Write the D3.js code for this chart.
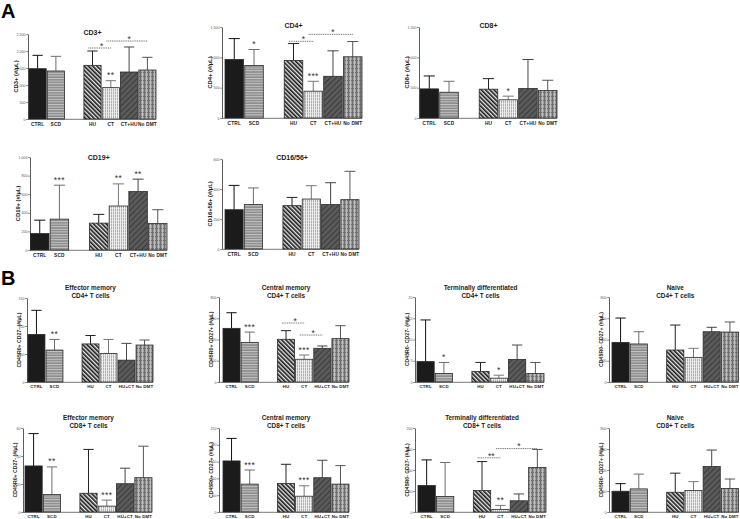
<!DOCTYPE html>
<html><head><meta charset="utf-8">
<script src="https://cdn.jsdelivr.net/npm/d3@7"></script>
<style>body{margin:0;background:#fff}svg{display:block}text{font-family:"Liberation Sans",Arial,sans-serif}</style>
</head><body><svg id="c" width="740" height="519"></svg>
<script>
// ---------- DATA ----------
const groupsA = ["CTRL","SCD","HU","CT","CT+HU","No DMT"];
const groupsB = ["CTRL","SCD","HU","CT","HU+CT","No DMT"];

const cd3Mean = [1480,1412,1578,922,1382,1441];
const cd3Sd   = [393,431,422,205,736,373];
const cd3Ticks = [0,500,1000,1500,2000,2500];
const cd3Stars = [{g:3,t:"**"}];
const cd3Brackets = [{a:2,b:3,v:2088,t:"*"},{a:3,b:5,v:2294,t:"*"}];

const cd4Mean = [965,867,949,442,687,1009];
const cd4Sd   = [344,262,278,163,420,251];
const cd4Ticks = [0,500,1000,1500];
const cd4Stars = [{g:1,t:"*"},{g:3,t:"***"}];
const cd4Brackets = [{a:2,b:3,v:1264,t:"*"},{a:3,b:5,v:1379,t:"*"}];

const cd8Mean = [480,425,475,300,485,453];
const cd8Sd   = [213,180,174,60,480,169];
const cd8Ticks = [0,500,1000,1500];
const cd8Stars = [{g:3,t:"*"}];

const cd19Mean = [177,332,289,473,628,285];
const cd19Sd   = [144,365,94,238,134,148];
const cd19Ticks = [0,200,400,600,800,1000];
const cd19Stars = [{g:1,t:"***"},{g:3,t:"**"},{g:4,t:"**"}];

const cd1656Mean = [262,296,289,333,296,329];
const cd1656Sd   = [162,111,55,89,146,189];
const cd1656Ticks = [0,200,400,600];

const emCd4Mean = [85,57,68,51,39,66];
const emCd4Sd   = [43,19,15,25,30,9];
const emCd4Ticks = [0,50,100,150];
const emCd4Stars = [{g:1,t:"**"}];

const cmCd4Mean = [505,373,402,214,317,408];
const cmCd4Sd   = [147,97,81,40,22,122];
const cmCd4Ticks = [0,200,400,600,800];
const cmCd4Stars = [{g:1,t:"***"},{g:3,t:"***"}];
const cmCd4Brackets = [{a:2,b:3,v:555,t:"*"},{a:3,b:4,v:442,t:"*"}];

const tdCd4Mean = [4.8,2.0,2.5,0.9,5.3,2.0];
const tdCd4Sd   = [9.8,2.6,2.1,0.7,3.4,2.6];
const tdCd4Ticks = [0,5,10,15,20];
const tdCd4Stars = [{g:1,t:"*"},{g:3,t:"*"}];

const nvCd4Mean = [373,358,301,232,473,470];
const nvCd4Sd   = [229,115,235,85,42,95];
const nvCd4Ticks = [0,200,400,600,800];

const emCd8Mean = [32.9,12.5,13.4,4.2,20.2,24.5];
const emCd8Sd   = [23.1,19.7,31.3,4.3,11.1,22.5];
const emCd8Ticks = [0,20,40,60];
const emCd8Stars = [{g:1,t:"**"},{g:3,t:"***"}];

const cmCd8Mean = [152,83,85,47,102,83];
const cmCd8Sd   = [67,42,57,31,52,55];
const cmCd8Ticks = [0,50,100,150,200,250];
const cmCd8Stars = [{g:1,t:"***"},{g:3,t:"***"}];

const tdCd8Mean = [63,37,51,6.3,26.7,106];
const tdCd8Sd   = [61,81,69,9.4,16.3,43];
const tdCd8Ticks = [0,50,100,150,200];
const tdCd8Stars = [{g:3,t:"**"}];
const tdCd8Brackets = [{a:2,b:3,v:129,t:"**"},{a:3,b:5,v:151,t:"*"}];

const nvCd8Mean = [198,220,188,204,433,223];
const nvCd8Sd   = [72,141,182,85,157,91];
const nvCd8Ticks = [0,200,400,600,800];

// ---------- LAYOUT ----------
const A = {tf:7, lo:7, lf:4.8, yl:10, ylf:5.8};
const B = {tf:6.4, lo:5.6, lf:4.4, yl:6.5, ylf:5.2};
const panels = [
 {s:A,groups:groupsA,mean:cd3Mean,sd:cd3Sd,ticks:cd3Ticks,stars:cd3Stars,br:cd3Brackets,title:["CD3+"],ylab:"CD3+ (#/µL)",ax:28,bx:[29,156],yTop:34,yBase:119,tY:34.5},
 {s:A,groups:groupsA,mean:cd4Mean,sd:cd4Sd,ticks:cd4Ticks,stars:cd4Stars,br:cd4Brackets,title:["CD4+"],ylab:"CD4+ (#/µL)",ax:222,bx:[225,362],yTop:27,yBase:118,tY:27.5},
 {s:A,groups:groupsA,mean:cd8Mean,sd:cd8Sd,ticks:cd8Ticks,stars:cd8Stars,br:[],title:["CD8+"],ylab:"CD8+ (#/µL)",ax:419,bx:[420,557],yTop:27,yBase:118,tY:27.5},
 {s:A,groups:groupsA,mean:cd19Mean,sd:cd19Sd,ticks:cd19Ticks,stars:cd19Stars,br:[],title:["CD19+"],ylab:"CD19+ (#/µL)",ax:30,bx:[30.5,167],yTop:157,yBase:250,tY:160},
 {s:A,groups:groupsA,mean:cd1656Mean,sd:cd1656Sd,ticks:cd1656Ticks,stars:[],br:[],title:["CD16/56+"],ylab:"CD16+56+ (#/µL)",ax:222,bx:[225,359],yTop:159,yBase:249,tY:160},
 {s:B,groups:groupsB,mean:emCd4Mean,sd:emCd4Sd,ticks:emCd4Ticks,stars:emCd4Stars,br:[],title:["Effector memory","CD4+ T cells"],ylab:"CD45R0+ CD27- (#/µL)",ax:27,bx:[28,153],yTop:298,yBase:382,tY:290},
 {s:B,groups:groupsB,mean:cmCd4Mean,sd:cmCd4Sd,ticks:cmCd4Ticks,stars:cmCd4Stars,br:cmCd4Brackets,title:["Central memory","CD4+ T cells"],ylab:"CD45R0+ CD27+ (#/µL)",ax:219,bx:[223,349],yTop:297,yBase:382,tY:290},
 {s:B,groups:groupsB,mean:tdCd4Mean,sd:tdCd4Sd,ticks:tdCd4Ticks,stars:tdCd4Stars,br:[],title:["Terminally differentiated","CD4+ T cells"],ylab:"CD45R0- CD27- (#/µL)",ax:415,bx:[417,544],yTop:297,yBase:382,tY:290},
 {s:B,groups:groupsB,mean:nvCd4Mean,sd:nvCd4Sd,ticks:nvCd4Ticks,stars:[],br:[],title:["Naive","CD4+ T cells"],ylab:"CD45R0- CD27+ (#/µL)",ax:609,bx:[612,738.5],yTop:297,yBase:382,tY:290},
 {s:B,groups:groupsB,mean:emCd8Mean,sd:emCd8Sd,ticks:emCd8Ticks,stars:emCd8Stars,br:[],title:["Effector memory","CD8+ T cells"],ylab:"CD45R0+ CD27- (#/µL)",ax:23,bx:[25,152],yTop:428,yBase:512,tY:420},
 {s:B,groups:groupsB,mean:cmCd8Mean,sd:cmCd8Sd,ticks:cmCd8Ticks,stars:cmCd8Stars,br:[],title:["Central memory","CD8+ T cells"],ylab:"CD45R0+ CD27+ (#/µL)",ax:219,bx:[223,349],yTop:428,yBase:512,tY:420},
 {s:B,groups:groupsB,mean:tdCd8Mean,sd:tdCd8Sd,ticks:tdCd8Ticks,stars:tdCd8Stars,br:tdCd8Brackets,title:["Terminally differentiated","CD8+ T cells"],ylab:"CD45R0- CD27- (#/µL)",ax:415,bx:[418,546],yTop:428,yBase:512,tY:420},
 {s:B,groups:groupsB,mean:nvCd8Mean,sd:nvCd8Sd,ticks:nvCd8Ticks,stars:[],br:[],title:["Naive","CD8+ T cells"],ylab:"CD45R0- CD27+ (#/µL)",ax:609,bx:[612,738.5],yTop:428,yBase:512,tY:420}
];

const svg = d3.select("#c");
const defs = svg.append("defs");

function pattern(id, w, h, bg, fn, rot) {
  const p = defs.append("pattern").attr("id", id).attr("patternUnits","userSpaceOnUse")
    .attr("width", w).attr("height", h);
  if (rot) p.attr("patternTransform", `rotate(${rot})`);
  p.append("rect").attr("width", w).attr("height", h).attr("fill", bg);
  fn(p);
}
pattern("p0",4,4,"#1b1b1b",()=>{});
pattern("p1",4,2.6,"#8c8c8c",p=>p.append("rect").attr("y",0).attr("width",4).attr("height",1).attr("fill","#c6c6c6"));
pattern("p2",3,3,"#e4e4e4",p=>p.append("rect").attr("width",1.6).attr("height",3).attr("fill","#1a1a1a"),-45);
pattern("p3",2,3,"#b0b0b0",p=>{p.append("rect").attr("width",1).attr("height",3).attr("fill","#ededed");p.append("rect").attr("x",1).attr("y",1).attr("width",1).attr("height",1).attr("fill","#d0d0d0");});
pattern("p4",4,4,"#5a5a5a",p=>p.append("rect").attr("width",1).attr("height",4).attr("fill","#3c3c3c"),45);
pattern("p5",4,4,"#a0a0a0",p=>{p.append("rect").attr("width",1).attr("height",4).attr("fill","#6e6e6e");p.append("rect").attr("width",4).attr("height",1).attr("fill","#6e6e6e");p.append("rect").attr("x",2).attr("width",1).attr("height",4).attr("fill","#bdbdbd");});
const errColor = ["#111","#6d6d6d","#222","#777","#444","#555"];

svg.append("text").attr("x",1).attr("y",18).attr("font-size",20).attr("font-weight","bold").text("A");
svg.append("text").attr("x",1).attr("y",285).attr("font-size",20).attr("font-weight","bold").text("B");

const slots = ["s0","s1","gap","s2","s3","s4","s5"];
const slotOf = i => slots[i < 2 ? i : i + 1];

panels.forEach(p => {
  const st = p.s;
  const g = svg.append("g");
  const x = d3.scaleBand().domain(slots).range(p.bx).paddingInner(0.06);
  const y = d3.scaleLinear().domain([0, d3.max(p.ticks)]).range([p.yBase, p.yTop]);
  const bw = x.bandwidth();
  const cx = i => x(slotOf(i)) + bw / 2;

  const ax = g.append("g").attr("transform", `translate(${p.ax},0)`)
    .call(d3.axisLeft(y).tickValues(p.ticks).tickSize(1.8).tickPadding(0.8).tickSizeOuter(0));
  ax.select(".domain").attr("stroke","#333").attr("stroke-width",0.8);
  ax.selectAll(".tick line").attr("stroke","#333").attr("stroke-width",0.6);
  ax.selectAll(".tick text").attr("font-size",3.6).attr("fill","#555").attr("font-family","Liberation Sans, Arial");

  g.append("line").attr("x1",p.ax).attr("x2",p.bx[1]).attr("y1",p.yBase+0.3).attr("y2",p.yBase+0.3)
    .attr("stroke","#555").attr("stroke-width",0.8);

  p.mean.forEach((m,i) => {
    const c = cx(i), top = y(m + p.sd[i]);
    g.append("line").attr("x1",c).attr("x2",c).attr("y1",y(m)).attr("y2",top).attr("stroke",errColor[i]).attr("stroke-width",1);
    g.append("line").attr("x1",c-bw*0.3).attr("x2",c+bw*0.3).attr("y1",top).attr("y2",top).attr("stroke",errColor[i]).attr("stroke-width",1);
  });

  g.selectAll("rect.bar").data(p.mean).join("rect").attr("class","bar")
    .attr("x",(d,i)=>x(slotOf(i))).attr("y",d=>y(d)).attr("width",bw).attr("height",d=>p.yBase-y(d))
    .attr("fill",(d,i)=>`url(#p${i})`).attr("stroke","#2a2a2a").attr("stroke-width",0.8);

  p.groups.forEach((lab,i) => {
    g.append("text").attr("x",cx(i)).attr("y",p.yBase+st.lo).attr("text-anchor","middle")
      .attr("font-size",st.lf).attr("font-weight","bold").attr("fill","#222").attr("letter-spacing",0.15).text(lab);
  });

  const tcx = (p.bx[0]+p.bx[1])/2;
  p.title.forEach((t,k) => {
    g.append("text").attr("x",tcx).attr("y",p.tY + k*8).attr("text-anchor","middle")
      .attr("font-size",st.tf).attr("font-weight","bold").attr("fill","#222").text(t);
  });

  const my = (p.yTop + p.yBase)/2;
  g.append("text").attr("transform",`translate(${p.ax - st.yl},${my}) rotate(-90)`)
    .attr("text-anchor","middle").attr("font-size",st.ylf).attr("font-weight","bold").attr("fill","#222").text(p.ylab);

  p.stars.forEach(s => {
    g.append("text").attr("x",cx(s.g)).attr("y",y(p.mean[s.g]+p.sd[s.g]) - 2.5).attr("text-anchor","middle")
      .attr("font-size",8.5).attr("fill","#333").attr("letter-spacing",0.4).text(s.t);
  });

  p.br.forEach(b => {
    const yy = y(b.v);
    g.append("line").attr("x1",cx(b.a)-bw*0.25).attr("x2",cx(b.b)).attr("y1",yy).attr("y2",yy)
      .attr("stroke","#555").attr("stroke-width",0.9).attr("stroke-dasharray","1,0.8");
    g.append("text").attr("x",(cx(b.a)+cx(b.b))/2).attr("y",yy+0.8).attr("text-anchor","middle")
      .attr("font-size",8.5).attr("fill","#333").text(b.t);
  });
});
</script></body></html>
